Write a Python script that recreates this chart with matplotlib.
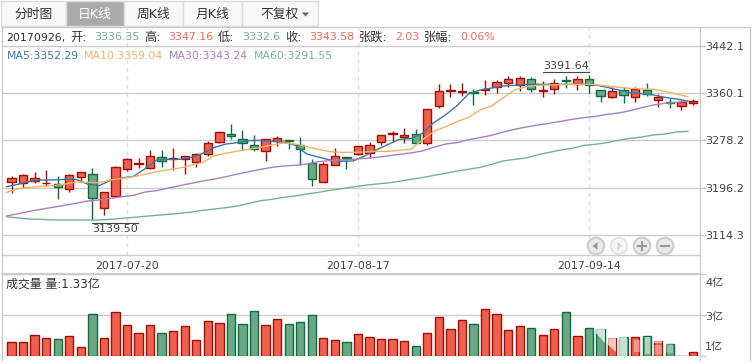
import matplotlib
matplotlib.use("Agg")
import matplotlib.pyplot as plt
import numpy as np
from matplotlib.patches import Circle, Polygon, Rectangle

plt.rcParams["font.family"] = ["DejaVu Sans", "Noto Sans CJK SC"]

W, H = 755, 364

open_ = [3205.3, 3203.6, 3208.2, 3204.0, 3201.9, 3193.2, 3214.0, 3219.3, 3160.1, 3181.6,
         3228.0, 3238.0, 3230.9, 3248.8, 3246.1, 3245.4, 3241.3, 3254.1, 3275.0, 3289.4,
         3280.2, 3269.7, 3259.3, 3277.8, 3278.4, 3269.7, 3238.4, 3205.3, 3234.9, 3249.4,
         3254.1, 3255.8, 3275.0, 3290.2, 3283.6, 3288.9, 3273.2, 3337.6, 3364.4, 3362.7,
         3361.9, 3366.2, 3370.6, 3377.6, 3374.1, 3384.6, 3365.0, 3367.2, 3383.4, 3376.4,
         3384.6, 3365.4, 3354.4, 3365.4, 3354.4, 3365.4, 3348.0, 3344.5, 3337.6, 3342.8]
close = [3212.3, 3217.5, 3212.3, 3204.6, 3197.8, 3217.5, 3222.7, 3177.5, 3187.9, 3231.4,
         3245.4, 3238.8, 3250.6, 3243.0, 3246.9, 3250.6, 3254.1, 3273.2, 3292.3, 3286.5,
         3273.2, 3262.8, 3280.2, 3281.9, 3276.7, 3262.8, 3210.6, 3236.7, 3250.6, 3248.3,
         3268.0, 3269.7, 3287.1, 3291.0, 3287.1, 3273.2, 3332.4, 3363.7, 3365.2, 3363.5,
         3360.9, 3367.0, 3379.3, 3384.6, 3386.3, 3367.2, 3365.8, 3377.6, 3381.1, 3384.6,
         3375.3, 3355.0, 3363.7, 3356.7, 3367.2, 3358.5, 3353.2, 3343.4, 3344.5, 3346.2]
high = [3216.4, 3219.3, 3223.3, 3226.8, 3216.4, 3219.3, 3222.7, 3230.3, 3187.9, 3233.8,
        3247.1, 3247.1, 3261.6, 3261.6, 3264.5, 3251.7, 3255.8, 3277.3, 3292.3, 3306.8,
        3296.4, 3287.7, 3280.2, 3286.0, 3279.0, 3284.2, 3245.9, 3240.1, 3264.5, 3250.0,
        3268.0, 3275.5, 3287.1, 3294.1, 3299.3, 3298.1, 3332.4, 3376.4, 3376.4, 3378.2,
        3367.7, 3383.4, 3383.4, 3390.5, 3390.0, 3388.0, 3381.7, 3384.6, 3390.5, 3390.0,
        3391.64, 3365.4, 3370.6, 3370.6, 3370.6, 3377.6, 3358.5, 3351.5, 3348.6, 3349.8]
low = [3187.4, 3194.9, 3203.6, 3199.0, 3176.9, 3189.1, 3205.3, 3139.5, 3148.5, 3179.2,
       3225.6, 3230.9, 3229.1, 3232.6, 3226.8, 3219.8, 3232.6, 3250.6, 3273.2, 3280.7,
       3261.6, 3259.9, 3243.0, 3268.6, 3263.9, 3235.5, 3199.5, 3205.3, 3234.9, 3229.1,
       3252.3, 3247.7, 3270.3, 3275.0, 3273.8, 3273.2, 3270.9, 3335.3, 3354.4, 3355.6,
       3340.5, 3357.9, 3360.2, 3371.8, 3364.8, 3363.1, 3354.4, 3359.0, 3370.1, 3366.0,
       3361.4, 3345.7, 3352.7, 3344.0, 3345.7, 3356.1, 3335.8, 3335.3, 3331.8, 3340.0]
volume = [1.69, 1.69, 1.93, 1.83, 1.79, 1.89, 1.52, 2.64, 1.83, 2.71,
          2.27, 2.00, 2.27, 2.00, 2.06, 2.24, 1.76, 2.41, 2.34, 2.64,
          2.30, 2.75, 2.27, 2.47, 2.30, 2.37, 2.61, 1.83, 1.76, 1.69,
          1.96, 1.86, 1.79, 1.79, 1.72, 1.55, 2.00, 2.54, 2.13, 2.44,
          2.30, 2.82, 2.64, 2.10, 2.24, 2.17, 1.93, 2.13, 2.71, 1.89,
          2.17, 2.13, 1.83, 1.86, 1.86, 1.89, 1.72, 1.62, 1.21, 1.35]
ma5 = [3197.8, 3201.9, 3207.1, 3209.4, 3209.4, 3210.6, 3210.6, 3202.4, 3199.5, 3208.8,
       3212.9, 3215.8, 3229.1, 3244.2, 3245.4, 3245.4, 3248.8, 3255.8, 3266.2, 3272.0,
       3274.4, 3277.8, 3278.4, 3276.7, 3275.5, 3269.7, 3254.6, 3249.4, 3244.2, 3241.9,
       3242.5, 3251.2, 3261.6, 3270.9, 3280.2, 3281.3, 3290.6, 3309.2, 3322.5, 3338.7,
       3359.0, 3366.0, 3369.5, 3373.0, 3374.1, 3375.9, 3375.9, 3375.9, 3375.9, 3375.9,
       3375.9, 3374.7, 3370.6, 3366.0, 3361.4, 3359.6, 3357.3, 3353.2, 3350.3, 3346.9]
ma10 = [3187.9, 3194.3, 3196.6, 3198.4, 3199.5, 3201.9, 3205.9, 3205.3, 3204.8, 3209.4,
        3212.3, 3215.2, 3219.3, 3223.9, 3227.4, 3230.3, 3234.9, 3240.1, 3251.7, 3255.8,
        3259.9, 3262.8, 3266.2, 3270.3, 3273.8, 3272.0, 3267.4, 3262.8, 3258.7, 3257.5,
        3257.5, 3258.1, 3259.3, 3259.3, 3261.0, 3262.8, 3279.0, 3293.5, 3302.2, 3310.9,
        3318.4, 3331.2, 3338.2, 3352.7, 3366.0, 3371.8, 3374.1, 3374.7, 3375.3, 3375.9,
        3375.9, 3375.3, 3373.0, 3370.6, 3368.9, 3367.7, 3367.2, 3363.7, 3359.0, 3354.4]
ma30 = [3146.8, 3150.8, 3154.9, 3158.4, 3161.8, 3165.3, 3168.8, 3172.9, 3174.6, 3177.5,
        3180.4, 3182.7, 3188.5, 3190.8, 3195.5, 3199.5, 3203.6, 3207.7, 3211.1, 3215.2,
        3219.8, 3223.9, 3228.0, 3231.4, 3233.8, 3234.9, 3237.2, 3241.3, 3243.0, 3244.2,
        3245.4, 3247.1, 3248.8, 3251.2, 3254.1, 3256.4, 3259.9, 3266.2, 3272.0, 3274.4,
        3279.6, 3283.1, 3287.1, 3292.9, 3297.6, 3301.6, 3305.1, 3308.0, 3311.5, 3315.0,
        3317.9, 3320.2, 3323.7, 3326.0, 3330.1, 3335.3, 3339.9, 3342.8, 3344.5, 3346.3]
ma60 = [3145.6, 3143.3, 3141.5, 3141.0, 3139.8, 3139.8, 3139.8, 3139.8, 3139.8, 3141.0,
        3142.7, 3144.4, 3146.2, 3147.9, 3149.7, 3151.4, 3153.7, 3156.6, 3158.9, 3161.3,
        3164.2, 3168.8, 3173.4, 3175.8, 3179.2, 3181.6, 3185.0, 3187.9, 3191.4, 3194.3,
        3197.2, 3200.1, 3202.4, 3204.2, 3207.1, 3210.6, 3213.5, 3217.5, 3221.0, 3225.0,
        3228.0, 3231.4, 3236.7, 3242.5, 3245.4, 3247.7, 3253.5, 3257.5, 3261.6, 3264.5,
        3269.7, 3271.5, 3274.4, 3278.4, 3281.9, 3284.2, 3287.7, 3289.4, 3292.9, 3294.1]

price_ticks = [3442.1, 3360.1, 3278.2, 3196.2, 3114.3]
date_idx = [10, 30, 50]
date_labels = ["2017-07-20", "2017-08-17", "2017-09-14"]
vol_ticks = [4.0, 2.6, 1.2]
vol_labels = ["4亿", "3亿", "1亿"]

RED, RED_E = "#F0604F", "#A01005"
GRN, GRN_E = "#6AA886", "#0C6E3E"
C5, C10, C30, C60 = "#3A76A8", "#EDB466", "#A880BC", "#79B094"
GRID = "#CCCCCC"
TXT = "#444444"
INFO_G, INFO_R = "#6FAE8F", "#F4665C"


def px_axes(fig, x0, y0, x1, y1, **kw):
    return fig.add_axes([x0 / W, 1 - y1 / H, (x1 - x0) / W, (y1 - y0) / H], **kw)


fig = plt.figure(figsize=(W / 100, H / 100), dpi=100, facecolor="white")

# chrome layer in pixel coordinates
bg = fig.add_axes([0, 0, 1, 1], zorder=0)
bg.set_xlim(0, W)
bg.set_ylim(H, 0)
bg.axis("off")
tabs = [("分时图", 1, 66), ("日K线", 66, 124), ("周K线", 124, 183), ("月K线", 183, 242), ("不复权", 242, 318)]
for name, x0, x1 in tabs:
    on = name == "日K线"
    bg.add_patch(Rectangle((x0, 1), x1 - x0, 25, fc="#ABABAB" if on else "#F8F8F8", ec="#DDDDDD", lw=1))
    tx = (x0 + x1) / 2 if name != "不复权" else 280
    bg.text(tx, 14.5, name, ha="center", va="center", fontsize=9.2,
            color="white" if on else "#333333")
bg.add_patch(Polygon([[302, 12.5], [309, 12.5], [305.5, 16.5]], fc="#666666", ec="none"))
bg.plot([1.5, 750], [27, 27], color=GRID, lw=1)
bg.plot([750, 750], [27, 360], color=GRID, lw=1)
bg.plot([1.5, 1.5], [27, 360], color=GRID, lw=1)
bg.plot([699.5, 699.5], [27, 360], color=GRID, lw=1)
bg.plot([1.5, 700], [273.7, 273.7], color=GRID, lw=1.6)
bg.plot([1.5, 700], [255, 255], color=GRID, lw=1)

info = [("20170926,", 6, "#333333", 7.9), ("开:", 70, "#333333", 8.8), ("3336.35", 94, INFO_G, 7.9),
        ("高:", 144, "#333333", 8.8), ("3347.16", 168, INFO_R, 7.9), ("低:", 218, "#333333", 8.8),
        ("3332.6", 242, INFO_G, 7.9), ("收:", 285, "#333333", 8.8), ("3343.58", 309, INFO_R, 7.9),
        ("张跌:", 359, "#333333", 8.8), ("2.03", 395.5, INFO_R, 7.9), ("张幅:", 424, "#333333", 8.8),
        ("0.06%", 460.5, INFO_R, 7.9)]
for s, x, c, fs in info:
    bg.text(x, 37.5, s, ha="left", va="center", fontsize=fs, color=c)
ma_info = [("MA5:3352.29", 6.5, C5), ("MA10:3359.04", 84, C10), ("MA30:3343.24", 169, C30), ("MA60:3291.55", 254, C60)]
for s, x, c in ma_info:
    bg.text(x, 56, s, ha="left", va="center", fontsize=7.8, color=c)

# price pane
x_lo, x_hi = -0.866, 59.57
ax = px_axes(fig, 1.5, 27, 699.5, 255, zorder=1)
ax.patch.set_alpha(0)
ax.set_xlim(x_lo, x_hi)
ax.set_ylim(3078.9, 3475.6)
for s in ax.spines.values():
    s.set_visible(False)
ax.yaxis.tick_right()
ax.set_yticks(price_ticks, [f"{v:.1f}" for v in price_ticks])
ax.tick_params(axis="y", length=4, width=1, color=GRID, labelcolor=TXT, labelsize=8, pad=0)
ax.set_xticks(date_idx, date_labels)
ax.tick_params(axis="x", length=0, labelcolor=TXT, labelsize=7.9, pad=4.5)
ax.grid(axis="y", color=GRID, lw=1)
ax.grid(axis="x", color="#DDDDDD", lw=1, ls=(0, (3, 3)))
ax.set_axisbelow(True)

idx = np.arange(len(open_))
o, c_, hi, lo = map(np.array, (open_, close, high, low))
down = c_ < o
face = np.where(down, GRN, RED)
edge = np.where(down, GRN_E, RED_E)
ax.vlines(idx, lo, hi, colors=edge, lw=1, zorder=2)
ax.bar(idx, np.abs(c_ - o), bottom=np.minimum(o, c_), width=0.72, color=face,
       edgecolor=edge, linewidth=1, zorder=3)

# moving averages sit a little left of the candle centres
xl = idx - 0.43
ax.plot(xl, ma5, color=C5, lw=1, zorder=4)
ax.plot(xl, ma10, color=C10, lw=1, zorder=4)
ax.plot(xl, ma30, color=C30, lw=1, zorder=4)
ax.plot(xl, ma60, color=C60, lw=1, zorder=4)

i_low, i_high = int(np.argmin(lo)), int(np.argmax(hi))
ax.plot([i_low, i_low + 3.95], [lo[i_low] - 5.5] * 2, color=TXT, lw=0.8, zorder=5)
ax.text(i_low + 1.97, lo[i_low] - 7.5, f"{lo[i_low]:.2f}", ha="center", va="top", fontsize=8, color=TXT)
ax.plot([i_high - 3.95, i_high], [hi[i_high] + 5.5] * 2, color=TXT, lw=0.8, zorder=5)
ax.text(i_high - 1.97, hi[i_high] + 7.5, f"{hi[i_high]:.2f}", ha="center", va="bottom", fontsize=8, color=TXT)

# nav buttons
for x, a in [(596, 1.0), (619, 0.45), (642, 1.0), (665, 1.0)]:
    ax.add_patch(Circle((x, 246), 8.3, transform=bg.transData, fc="#EAEAEA", ec="#CDCDCD", lw=1.5,
                        alpha=a, zorder=6))
ax.add_patch(Polygon([[592.5, 246], [597.5, 242], [597.5, 250]], transform=bg.transData, fc="#999999", ec="none", zorder=7))
ax.add_patch(Polygon([[622.5, 246], [617.5, 242], [617.5, 250]], transform=bg.transData, fc="#D5D5D5", ec="none", zorder=7))
ax.plot([638, 646], [246, 246], transform=bg.transData, color="#999999", lw=1.5, zorder=7)
ax.plot([642, 642], [242, 250], transform=bg.transData, color="#999999", lw=1.5, zorder=7)
ax.plot([661, 669], [246, 246], transform=bg.transData, color="#999999", lw=1.5, zorder=7)

# volume pane
av = px_axes(fig, 1.5, 274, 699.5, 356, zorder=1)
av.patch.set_alpha(0)
av.set_xlim(x_lo, x_hi)
av.set_ylim(1.2, 4.0)
for s in av.spines.values():
    s.set_visible(False)
av.set_xticks(date_idx, [""] * 3)
av.tick_params(axis="x", length=0)
av.yaxis.tick_right()
av.set_yticks(vol_ticks, [""] * 3)
av.tick_params(axis="y", length=4, width=1, color=GRID)
av.grid(axis="y", color=GRID, lw=1)
av.set_axisbelow(True)
av.bar(idx, np.array(volume) - 1.2, bottom=1.2, width=0.72, color=face, edgecolor=edge, linewidth=1, zorder=3)
for v, lab, dy in zip(vol_ticks, vol_labels, [-9, -2, 9]):
    av.annotate(lab, xy=(1, v), xycoords=("axes fraction", "data"), xytext=(5.5, dy),
                textcoords="offset pixels", va="center", ha="left", fontsize=8, color=TXT, annotation_clip=False)
bg.text(6, 284, "成交量 量:1.33亿", ha="left", va="center", fontsize=8.6, color="#333333")

# site watermark washing out the last few volume bars
wash = [([596, 605, 605, 596], [328, 328, 343, 333], 0.7),
        ([607, 616, 616, 607], [337, 337, 352, 344], 0.65),
        ([619, 627, 627, 619], [336, 336, 356, 356], 0.65),
        ([634, 640, 640, 634], [340, 340, 352, 352], 0.35),
        ([645, 650, 650, 645], [337, 337, 354, 354], 0.5),
        ([653, 662, 662, 653], [340, 340, 343, 343], 0.6),
        ([653, 662, 662, 653], [345, 345, 355, 355], 0.3),
        ([665, 673, 673, 665], [344, 344, 353, 353], 0.3)]
for xs, ys, a in wash:
    av.add_patch(Polygon(list(zip(xs, ys)), transform=bg.transData, fc="white", ec="none", alpha=a, zorder=6))

fig.savefig("out.png", dpi=100)
